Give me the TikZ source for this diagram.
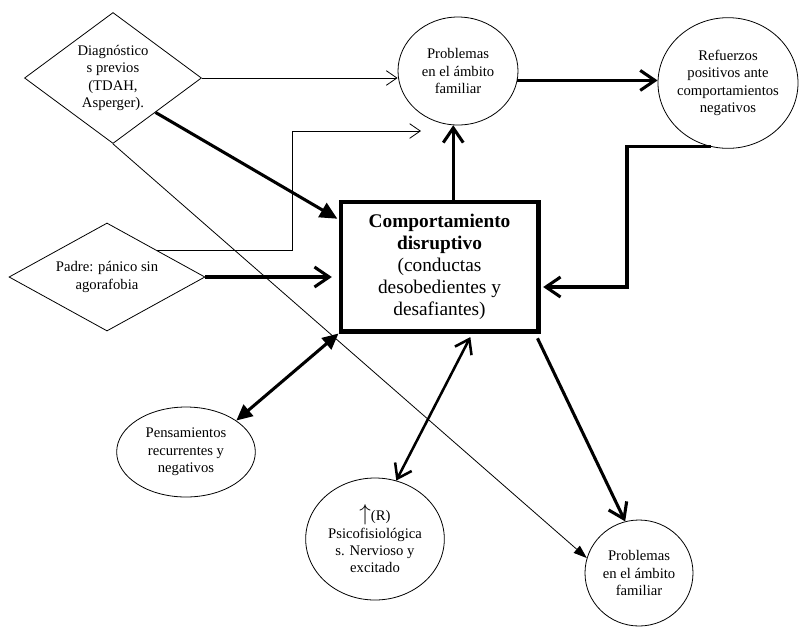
\documentclass[tikz,border=0pt]{standalone}
\usepackage{fontspec}
\setmainfont{Liberation Serif}
\usetikzlibrary{shapes.geometric,arrows.meta}
\begin{document}
\begin{tikzpicture}[x=0.75pt,y=-0.75pt,
  every node/.style={font=\fontsize{11}{13}\selectfont,align=center,inner sep=0pt},
  rombo/.style={draw,diamond,line width=0.6pt},
  elip/.style={draw,ellipse,line width=0.6pt,inner xsep=-4pt},
  fino/.style={line width=0.6pt,-{Straight Barb[length=8pt,width=11pt]}},
  finofl/.style={line width=0.6pt,-{Triangle[length=10pt,width=7pt]}},
  grueso/.style={line width=2.3pt,-{Straight Barb[length=11pt,width=15pt]}},
  gruesofl/.style={line width=2.3pt,-{Triangle[length=13pt,width=12pt]}},
  doble/.style={line width=1.9pt,{Straight Barb[length=10pt,width=14pt]}-{Straight Barb[length=10pt,width=14pt]}},
  doblefl/.style={line width=2.3pt,{Triangle[length=12pt,width=11pt]}-{Triangle[length=12pt,width=11pt]}}]
\useasboundingbox (0,0) rectangle (800,626);

\node[rombo,aspect=1.35,minimum width=132.75pt,minimum height=98.25pt] (diag) at (113,78) {Diagnóstico\\s previos\\(TDAH,\\Asperger).};
\node[rombo,aspect=1.8,minimum width=147pt,minimum height=81pt] (padre) at (107,277) {Padre: pánico sin\\agorafobia};
\node[elip,minimum width=90pt,minimum height=81pt] (prob) at (458,71) {Problemas\\en el ámbito\\familiar};
\node[elip,minimum width=105pt,minimum height=98pt] (refu) at (728,83) {Refuerzos\\positivos ante\\comportamientos\\negativos};
\node[draw,line width=3.5pt,minimum width=148pt,minimum height=97pt,font=\fontsize{14.5}{16.5}\selectfont] (comp) at (439.5,266.5) {\textbf{Comportamiento}\\\textbf{disruptivo}\\(conductas\\desobedientes y\\desafiantes)};
\node[elip,minimum width=104pt,minimum height=67.5pt] (pens) at (186,452) {Pensamientos\\recurrentes y\\negativos};
\node[elip,minimum width=104pt,minimum height=91.5pt] (psico) at (375,539) {{\fontsize{16}{13}\selectfont$\uparrow$}(R)\\Psicofisiológica\\s. Nervioso y\\excitado};
\node[elip,minimum width=81pt,minimum height=79.5pt] (prob2) at (639,573) {Problemas\\en el ámbito\\familiar};

\draw[fino] (diag.east) -- (diag.east -| prob.west);
\draw[gruesofl,shorten >=1pt] (diag.-39) -- (comp.155);
\draw[finofl] (diag.south) -- (prob2.164);
\coordinate (codo) at (292,131);
\coordinate (punta) at (421,131);
\draw[fino] (padre.28) -| (codo) -- (punta);
\draw[grueso,shorten >=5pt] (padre.east) -- (padre.east -| comp.west);
\draw[grueso] (comp.north -| prob.265) -- (prob.265);
\draw[grueso] (prob.-9) -- (prob.-9 -| refu.west);
\coordinate (giro) at (627,287);
\draw[grueso,shorten >=2pt] (refu.-105) -| (giro) -- (giro -| comp.east);
\draw[doblefl] (comp.south west) -- (pens.32);
\draw[doble,shorten <=3pt] (comp.-64) -- (psico.70);
\draw[grueso,shorten <=4pt] (comp.-35) -- (prob2.105);
\end{tikzpicture}
\end{document}
